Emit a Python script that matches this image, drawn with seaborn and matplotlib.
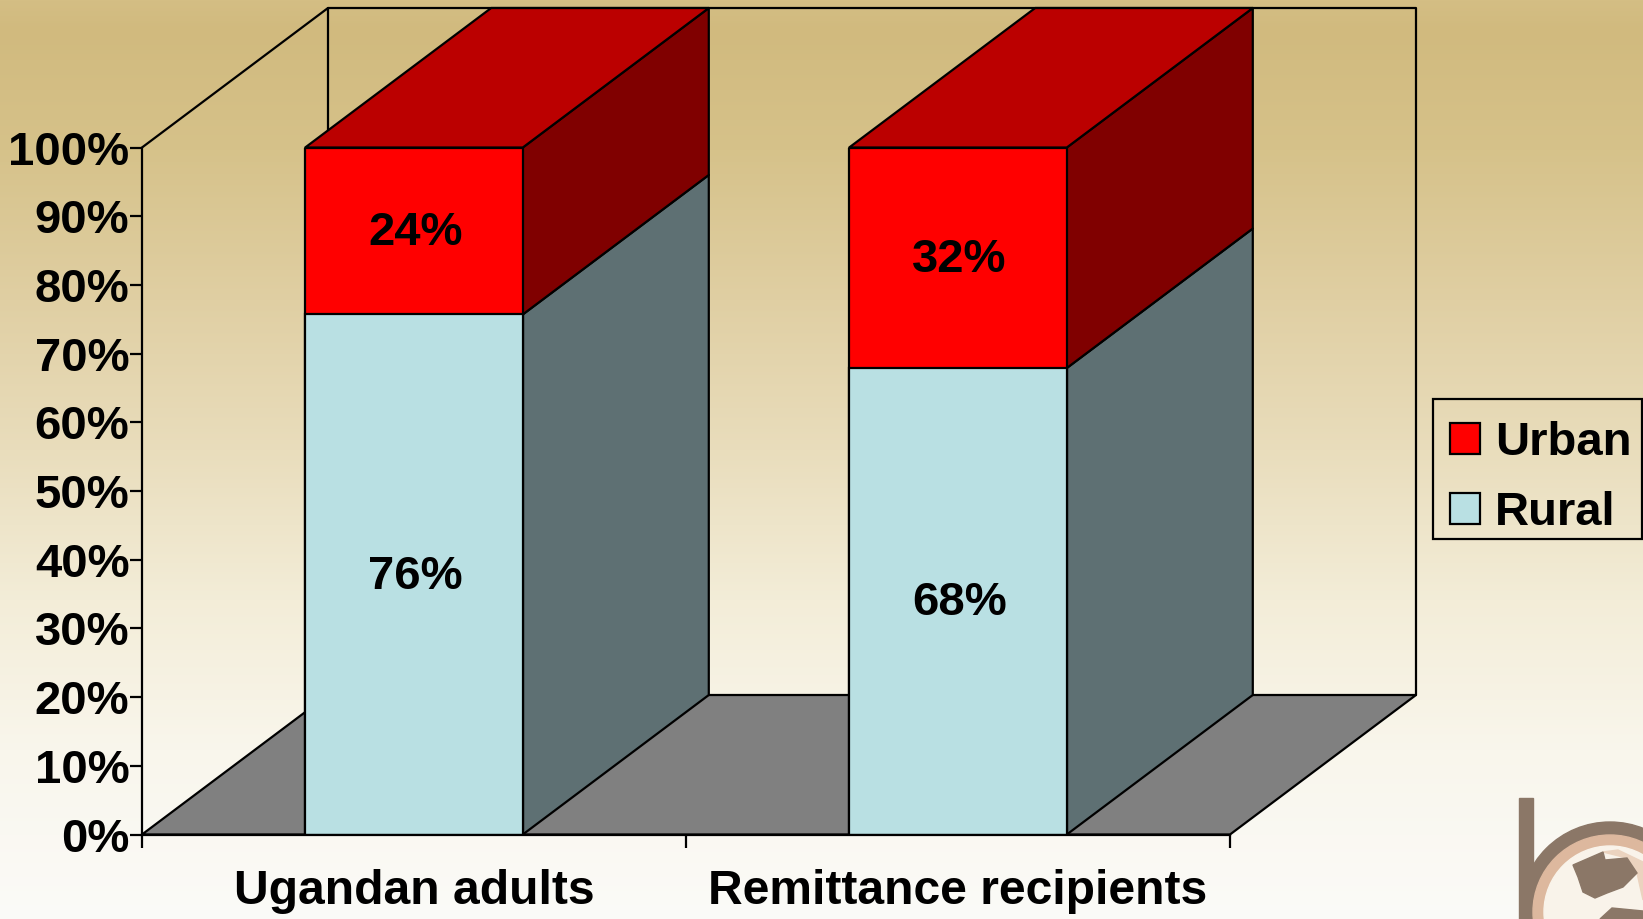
import matplotlib
matplotlib.use("Agg")
import matplotlib.pyplot as plt
from matplotlib.patches import Circle, Patch, Polygon, Rectangle
from matplotlib.transforms import ScaledTranslation
import numpy as np
import pandas as pd
import seaborn as sns

# ---- data
groups = ["Ugandan adults", "Remittance recipients"]
rural = [75.7, 67.9]
urban = [24.3, 32.1]
rural_labels = ["76%", "68%"]
urban_labels = ["24%", "32%"]
y_ticks = list(range(0, 101, 10))

# ---- colours
RURAL_C = "#B9E0E3"
RURAL_SIDE = "#5E7073"
URBAN_C = "#FF0000"
URBAN_TOP = "#BB0000"
URBAN_SIDE = "#800000"
FLOOR_C = "#808080"

W, H = 1643, 919
FS = 34
FS_CAT = 34.6
LW = 1.6
BAR_W = 0.4
DEPTH_X = 186 / 544    # fake 3D offset in category units
DEPTH_Y = 139.5 / 6.87  # fake 3D offset in percent units

sns.set_theme(style="white")
plt.rcParams["font.family"] = ["Liberation Sans", "DejaVu Sans"]
plt.rcParams["font.weight"] = "bold"
plt.rcParams["text.color"] = "black"

df = pd.DataFrame({"group": groups, "rural": rural, "urban": urban})
df["total"] = df["rural"] + df["urban"]

fig = plt.figure(figsize=(W / 100, H / 100), dpi=100)

# slide background
bg = fig.add_axes([0, 0, 1, 1], zorder=0)
stops_y = [0, 30, 150, 300, 450, 600, 750, 919]
stops_c = np.array([(212, 190, 132), (209, 186, 126), (214, 194, 138), (224, 207, 163),
                    (233, 221, 188), (243, 237, 216), (249, 246, 236), (251, 251, 248)])
rows = np.arange(H)
grad = np.stack([np.interp(rows, stops_y, stops_c[:, i]) for i in range(3)], axis=1) / 255
bg.imshow(grad[:, None, :], aspect="auto", extent=(0, W, H, 0))
bg.set_xlim(0, W)
bg.set_ylim(H, 0)
bg.axis("off")

# logo in the corner, cut by the slide edge
LOGO_BROWN = "#8B7767"
bg.add_patch(Rectangle((1519, 798), 14, 130, color=LOGO_BROWN))
bg.add_patch(Circle((1610, 912), 90, color=LOGO_BROWN))
bg.add_patch(Circle((1610, 912), 77, color="#DDB89E"))
bg.add_patch(Circle((1610, 912), 66, color="#F9F3EA"))
bg.add_patch(Polygon([(1603, 852), (1618, 850), (1643, 862), (1643, 900), (1637, 873), (1627, 858)],
                     color="#EBD3BF"))
bg.add_patch(Polygon([(1573, 865), (1603, 852), (1605, 860), (1627, 858), (1637, 873),
                      (1623, 887), (1607, 893), (1595, 898), (1583, 892), (1578, 877)],
                     color=LOGO_BROWN))
bg.add_patch(Polygon([(1600, 919), (1612, 908), (1643, 911), (1643, 919)], color=LOGO_BROWN))

# legend box, kept apart from the legend so its padding can differ per side
bg.add_patch(Rectangle((1433, 399), 209, 140, fill=False, edgecolor="black", linewidth=LW))

ax = fig.add_axes([142 / W, 1 - 834.5 / H, 1088 / W, 687 / H], zorder=1)
ax.patch.set_alpha(0)

# front faces, stacked by drawing the total behind the rural share
sns.barplot(data=df, x="group", y="total", color=URBAN_C, saturation=1, width=BAR_W,
            edgecolor="black", linewidth=LW, zorder=5, ax=ax)
sns.barplot(data=df, x="group", y="rural", color=RURAL_C, saturation=1, width=BAR_W,
            edgecolor="black", linewidth=LW, zorder=6, ax=ax)

ax.set_xlim(-0.5, 1.5)
ax.set_ylim(0, 100)
ax.set_xlabel("")
ax.set_ylabel("")


def face(pts, color, z):
    ax.add_patch(Polygon(pts, closed=True, facecolor=color, edgecolor="black",
                         linewidth=LW, zorder=z, clip_on=False, joinstyle="round"))


# floor and walls
x0, x1 = ax.get_xlim()
face([(x0, 0), (x0 + DEPTH_X, DEPTH_Y), (x1 + DEPTH_X, DEPTH_Y), (x1, 0)], FLOOR_C, 1)
ax.plot([x0, x0 + DEPTH_X, x0 + DEPTH_X], [100, 100 + DEPTH_Y, DEPTH_Y], color="black",
        lw=LW, zorder=2, clip_on=False)
ax.plot([x0 + DEPTH_X, x1 + DEPTH_X, x1 + DEPTH_X], [100 + DEPTH_Y, 100 + DEPTH_Y, DEPTH_Y],
        color="black", lw=LW, zorder=2, clip_on=False)

# small nudge so the labels sit where the slide has them
nudge = ax.transData + ScaledTranslation(1 / 72, -1.5 / 72, fig.dpi_scale_trans)

# sides and tops of the columns
for i, (r, u) in enumerate(zip(rural, urban)):
    left, right = i - BAR_W / 2, i + BAR_W / 2
    top = r + u
    face([(right, 0), (right + DEPTH_X, DEPTH_Y), (right + DEPTH_X, r + DEPTH_Y), (right, r)],
         RURAL_SIDE, 3)
    face([(right, r), (right + DEPTH_X, r + DEPTH_Y), (right + DEPTH_X, top + DEPTH_Y), (right, top)],
         URBAN_SIDE, 3)
    face([(left, top), (left + DEPTH_X, top + DEPTH_Y), (right + DEPTH_X, top + DEPTH_Y), (right, top)],
         URBAN_TOP, 3)
    ax.text(i, r / 2, rural_labels[i], ha="center", va="center", fontsize=FS, fontweight="bold",
            color="black", zorder=7, transform=nudge)
    ax.text(i, r + u / 2, urban_labels[i], ha="center", va="center", fontsize=FS, fontweight="bold",
            color="black", zorder=7, transform=nudge)

# axes
for s in ["top", "right"]:
    ax.spines[s].set_visible(False)
for s in ["left", "bottom"]:
    ax.spines[s].set_color("black")
    ax.spines[s].set_linewidth(LW)
    ax.spines[s].set_zorder(8)
ax.set_yticks(y_ticks)
ax.set_yticklabels([f"{v}%" for v in y_ticks], fontsize=FS, fontweight="bold", color="black")
ax.set_xticks([0, 1])
ax.set_xticklabels(groups, fontsize=FS_CAT, fontweight="bold", color="black")
ax.set_xticks([-0.5, 0.5, 1.5], minor=True)
ax.tick_params(axis="y", left=True, length=9, width=LW, color="black", pad=0)
ax.tick_params(axis="x", which="major", bottom=False, pad=19)
ax.tick_params(axis="x", which="minor", bottom=True, length=9, width=LW, color="black")

leg = fig.legend(handles=[Patch(facecolor=URBAN_C, edgecolor="black", linewidth=LW, label="Urban"),
                          Patch(facecolor=RURAL_C, edgecolor="black", linewidth=LW, label="Rural")],
                 loc="center left", bbox_to_anchor=(1450 / W, 1 - 478 / H), ncol=1,
                 fontsize=FS, frameon=False,
                 handlelength=0.64, handleheight=0.64, handletextpad=0.32,
                 labelspacing=0.55, borderpad=0, borderaxespad=0)
leg.set_zorder(10)

fig.savefig("out.png", dpi=100)
